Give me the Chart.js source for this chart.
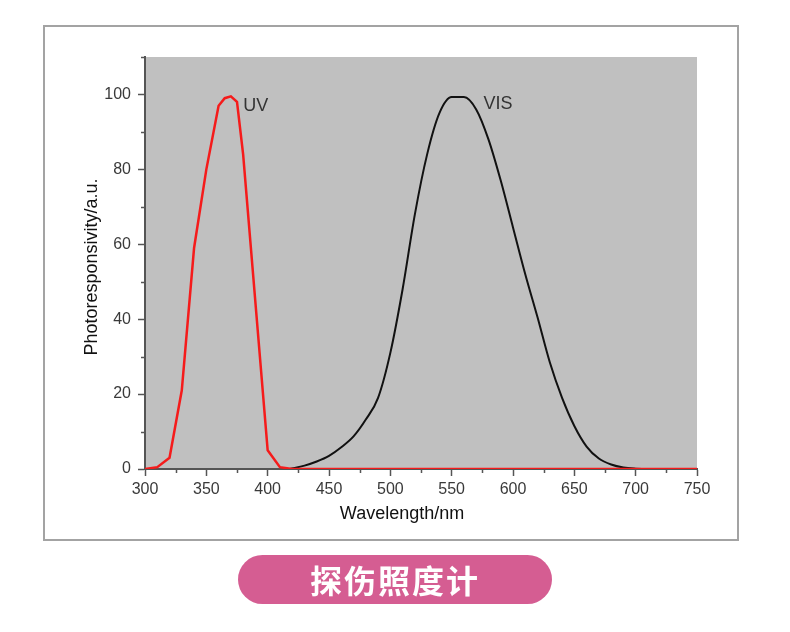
<!DOCTYPE html>
<html>
<head>
<meta charset="utf-8">
<script src="https://cdn.jsdelivr.net/npm/chart.js@4"></script>
<style>
    html, body { margin: 0; padding: 0; background: #fff; }
    body { width: 790px; height: 632px; position: relative; overflow: hidden; }
    #frame {
        position: absolute; left: 43px; top: 25px; width: 696px; height: 516px;
        border: 2px solid #a3a3a3; box-sizing: border-box;
    }
    #chart { position: absolute; left: 0; top: 0; }
    #badge {
        position: absolute; left: 238px; top: 555px; width: 314px; height: 49px;
        border-radius: 25px; background: #d55d92; color: #fff;
        font-family: "Noto Sans CJK SC", sans-serif; font-weight: bold; font-size: 32px;
        line-height: 49px; text-align: center; letter-spacing: 2px;
    }
</style>
</head>
<body>
<div id="frame"></div>
<canvas id="chart" width="790" height="632"></canvas>
<div id="badge">探伤照度计</div>
<script>
// Dados
const uvWavelength = [300, 310, 320, 330, 340, 350, 360, 365, 370, 375, 380, 400, 410, 420, 750];
const uvResponse   = [0, 0.5, 3, 21, 59, 80, 97, 99, 99.5, 98, 84, 5, 0.5, 0, 0];

const visWavelength = [418, 430, 440, 450, 460, 470, 480, 490, 500, 510, 520, 530, 540, 550, 560,
                       570, 580, 590, 600, 610, 620, 630, 640, 650, 660, 670, 680, 690, 700, 710, 718];
const visResponse   = [0, 0.9, 2, 3.5, 5.8, 8.7, 13.2, 19, 31, 48, 68, 84, 95, 99.3, 99.3,
                       96, 88, 77, 64.5, 52, 40.5, 28.5, 19, 11.5, 6, 2.8, 1.2, 0.4, 0.1, 0, 0];

const xTicks = [300, 350, 400, 450, 500, 550, 600, 650, 700, 750];
const yTicks = [0, 20, 40, 60, 80, 100];
const curveLabels = [
    { text: 'UV',  x: 380, y: 97 },
    { text: 'VIS', x: 576, y: 97.5 }
];

const FONT = "'Liberation Sans', Arial, sans-serif";

const toPoints = (xs, ys) => xs.map((x, i) => ({ x: x, y: ys[i] }));

const plotDecor = {
    id: 'plotDecor',
    beforeDraw(chart) {
        const { ctx, chartArea: a } = chart;
        ctx.save();
        ctx.fillStyle = '#c0c0c0';
        ctx.fillRect(a.left, a.top, a.right - a.left, a.bottom - a.top);
        ctx.restore();
    },
    afterDraw(chart) {
        const { ctx, chartArea: a, scales } = chart;
        const x = scales.x, y = scales.y;
        ctx.save();
        // ticks menores
        ctx.strokeStyle = '#555';
        ctx.lineWidth = 1.5;
        ctx.beginPath();
        for (let v = 325; v < 750; v += 50) {
            const px = Math.round(x.getPixelForValue(v)) + 0.5;
            ctx.moveTo(px, a.bottom);
            ctx.lineTo(px, a.bottom + 4);
        }
        for (let v = 10; v <= 110; v += 20) {
            const py = Math.round(y.getPixelForValue(v)) + 0.5;
            ctx.moveTo(a.left, py);
            ctx.lineTo(a.left - 4, py);
        }
        ctx.stroke();

        // rÃ³tulos das curvas
        ctx.fillStyle = '#333';
        ctx.font = '18px ' + FONT;
        ctx.textAlign = 'left';
        ctx.textBaseline = 'middle';
        curveLabels.forEach(l => {
            ctx.fillText(l.text, x.getPixelForValue(l.x), y.getPixelForValue(l.y));
        });

        // tÃ­tulos dos eixos
        ctx.fillStyle = '#111';
        ctx.textAlign = 'center';
        ctx.fillText('Wavelength/nm', 402, 514);
        ctx.translate(92, 267);
        ctx.rotate(-Math.PI / 2);
        ctx.fillText('Photoresponsivity/a.u.', 0, 0);
        ctx.restore();
    }
};

new Chart(document.getElementById('chart'), {
    type: 'line',
    data: {
        datasets: [
            {
                label: 'UV',
                data: toPoints(uvWavelength, uvResponse),
                borderColor: '#f51b1b',
                borderWidth: 2.5,
                pointRadius: 0,
                tension: 0
            },
            {
                label: 'VIS',
                data: toPoints(visWavelength, visResponse),
                borderColor: '#111',
                borderWidth: 2,
                pointRadius: 0,
                cubicInterpolationMode: 'monotone'
            }
        ]
    },
    options: {
        responsive: false,
        animation: false,
        layout: { padding: { top: 57, right: 93, left: 0, bottom: 0 } },
        plugins: { legend: { display: false }, tooltip: { enabled: false } },
        scales: {
            x: {
                type: 'linear',
                min: 300,
                max: 750,
                afterFit: s => { s.height = 163; },
                afterBuildTicks: s => { s.ticks = xTicks.map(v => ({ value: v })); },
                border: { color: '#555', width: 2 },
                grid: { drawOnChartArea: false, tickLength: 7, tickColor: '#555', tickWidth: 1.5 },
                ticks: { color: '#3a3a3a', font: { size: 16, family: FONT }, padding: 4, maxRotation: 0, autoSkip: false }
            },
            y: {
                min: 0,
                max: 110,
                afterFit: s => { s.width = 145; },
                afterBuildTicks: s => { s.ticks = yTicks.map(v => ({ value: v })); },
                border: { color: '#555', width: 2 },
                grid: { drawOnChartArea: false, tickLength: 7, tickColor: '#555', tickWidth: 1.5 },
                ticks: { color: '#3a3a3a', font: { size: 16, family: FONT }, padding: 7, autoSkip: false }
            }
        }
    },
    plugins: [plotDecor]
});
</script>
</body>
</html>
